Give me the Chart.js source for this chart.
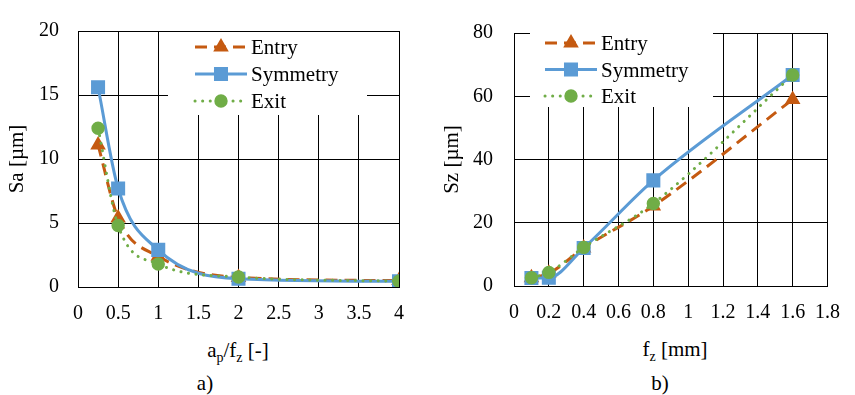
<!DOCTYPE html>
<html>
<head>
<meta charset="utf-8">
<script src="https://cdn.jsdelivr.net/npm/chart.js@4.4.1/dist/chart.umd.min.js"></script>
<style>
  body { margin: 0; background: #fff; }
  #wrap { position: relative; width: 855px; height: 395px; overflow: hidden; }
  .box { position: absolute; top: 0; height: 325px; }
  .t { position: absolute; transform: translate(-50%, -50%); font-size: 21px; font-family: "Liberation Serif", "Times New Roman", Times, "DejaVu Serif", serif; color: #000; white-space: nowrap; line-height: 26px; }
  .t sub { font-size: 14px; vertical-align: -5px; line-height: 0; }
</style>
</head>
<body>
<div id="wrap">
  <div class="box" style="left:0;width:430px"><canvas id="chartA"></canvas></div>
  <div class="box" style="left:430px;width:425px"><canvas id="chartB"></canvas></div>
  <div class="t" style="left:238px;top:350px">a<sub>p</sub>/f<sub>z</sub> [-]</div>
  <div class="t" style="left:205px;top:383px">a)</div>
  <div class="t" style="left:675px;top:349px">f<sub>z</sub> [mm]</div>
  <div class="t" style="left:660px;top:383px">b)</div>
</div>
<script>
// a) Sa vs ap/fz
var ratioX = [0.25, 0.5, 1, 2, 4];
var saEntry = [11.1, 5.4, 2.4, 0.75, 0.5];
var saSymmetry = [15.6, 7.7, 2.9, 0.65, 0.45];
var saExit = [12.4, 4.8, 1.8, 0.78, 0.45];
// b) Sz vs fz
var feedX = [0.1, 0.2, 0.4, 0.8, 1.6];
var szEntry = [2.6, 4.0, 12.0, 25.3, 59.0];
var szSymmetry = [2.5, 2.6, 12.0, 33.4, 66.7];
var szExit = [2.6, 4.3, 12.2, 26.1, 66.7];

var seriesNames = ["Entry", "Symmetry", "Exit"];

const FAMILY = '"Liberation Serif", "Times New Roman", Times, "DejaVu Serif", serif';
const FONT = { family: FAMILY, size: 20 };
const LEGEND_SIZE = 21;
const ORANGE = "#C55A11", BLUE = "#5B9BD5", GREEN = "#70AD47";

function pts(xs, ys) { return xs.map((x, i) => ({ x: x, y: ys[i] })); }

function makeSets(xs, a, b, c) {
  return [
    { label: seriesNames[0], data: pts(xs, a), borderColor: ORANGE, backgroundColor: ORANGE,
      borderWidth: 3, borderDash: [12, 7], pointStyle: "triangle", pointRadius: 6, order: 3 },
    { label: seriesNames[1], data: pts(xs, b), borderColor: BLUE, backgroundColor: BLUE,
      borderWidth: 3, borderDash: [], pointStyle: "rect", pointRadius: 7.8, order: 2 },
    { label: seriesNames[2], data: pts(xs, c), borderColor: GREEN, backgroundColor: GREEN,
      borderWidth: 3, borderDash: [0.1, 7.5], borderCapStyle: "round", pointStyle: "circle", pointRadius: 5.2, order: 1 }
  ];
}

// excel-like legend drawn inside the plot, on a white patch over the grid
const boxLegend = {
  id: "boxLegend",
  beforeDatasetsDraw(chart, args, o) {
    const ctx = chart.ctx;
    ctx.save();
    ctx.fillStyle = "#fff";
    ctx.fillRect(o.box[0], o.box[1], o.box[2], o.box[3]);
    chart.data.datasets.forEach((ds, i) => {
      const y = o.y0 + i * o.gap;
      ctx.strokeStyle = ds.borderColor;
      ctx.lineWidth = ds.borderWidth;
      ctx.lineCap = ds.borderCapStyle || "butt";
      ctx.setLineDash(ds.borderDash || []);
      ctx.beginPath();
      ctx.moveTo(o.x0, y);
      ctx.lineTo(o.x0 + o.len, y);
      ctx.stroke();
      ctx.setLineDash([]);
      ctx.fillStyle = ds.backgroundColor;
      ctx.strokeStyle = ds.borderColor;
      Chart.helpers.drawPoint(ctx, { pointStyle: ds.pointStyle, radius: ds.pointRadius, borderWidth: 1, rotation: 0 }, o.x0 + o.len / 2, y);
      ctx.fillStyle = "#000";
      ctx.font = LEGEND_SIZE + "px " + FAMILY;
      ctx.textBaseline = "alphabetic";
      ctx.fillText(ds.label, o.x0 + o.len + 4, y + 7);
    });
    ctx.restore();
  }
};

function fmt(v) { return String(Number(v.toFixed(2))); }

function makeChart(id, sets, c) {
  return new Chart(id, {
    type: "line",
    data: { datasets: sets },
    plugins: [boxLegend],
    options: {
      responsive: true,
      maintainAspectRatio: false,
      animation: false,
      layout: { padding: { top: c.top, right: c.right, left: 0, bottom: 0 } },
      elements: {
        line: { cubicInterpolationMode: "monotone" },
        point: { borderWidth: 1 }
      },
      plugins: {
        legend: { display: false },
        tooltip: { enabled: false },
        boxLegend: c.legend
      },
      scales: {
        x: {
          type: "linear", min: c.xMin, max: c.xMax,
          afterFit: s => { s.height = 325 - c.bottom; },
          grid: { color: "#000", lineWidth: 1, drawTicks: false },
          border: { color: "#000", width: 1 },
          ticks: { stepSize: c.xStep, font: FONT, color: "#000", padding: 15, autoSkip: false, maxRotation: 0, callback: fmt }
        },
        y: {
          type: "linear", min: 0, max: c.yMax,
          afterFit: s => { s.width = c.yWidth; },
          grid: { color: "#000", lineWidth: 1, drawTicks: false },
          border: { color: "#000", width: 1 },
          ticks: { stepSize: c.yStep, font: FONT, color: "#000", padding: c.yPad, callback: fmt },
          title: { display: true, text: c.yTitle, font: { family: FAMILY, size: 21 }, color: "#000", padding: { top: c.titlePad, bottom: 0 } }
        }
      }
    }
  });
}

makeChart("chartA", makeSets(ratioX, saEntry, saSymmetry, saExit), {
  xMin: 0, xMax: 4, xStep: 0.5, yMax: 20, yStep: 5, yTitle: "Sa [µm]",
  top: 22, right: 31, bottom: 287, yWidth: 78, yPad: 19, titlePad: 5,
  legend: { box: [168, 32, 199, 83], x0: 195, len: 52, y0: 47, gap: 27 }
});

makeChart("chartB", makeSets(feedX, szEntry, szSymmetry, szExit), {
  xMin: 0, xMax: 1.8, xStep: 0.2, yMax: 80, yStep: 20, yTitle: "Sz [µm]",
  top: 19, right: 18, bottom: 286, yWidth: 84, yPad: 21, titlePad: 10,
  legend: { box: [100, 27, 183, 80], x0: 115, len: 52, y0: 43, gap: 26.5 }
});
</script>
</body>
</html>
